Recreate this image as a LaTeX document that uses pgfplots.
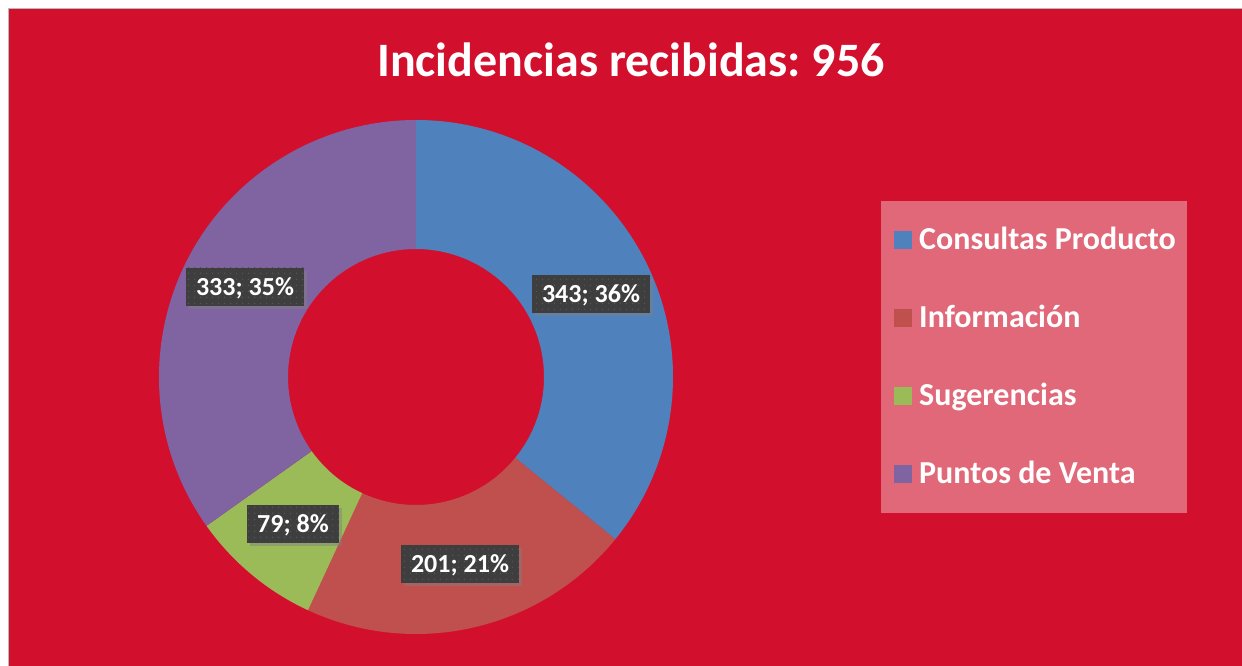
\documentclass[border=0pt]{standalone}
\usepackage{pgfplots}
\pgfplotsset{compat=1.18}
\usepackage{pgfplotstable}
\usepackage{fontspec}
\setmainfont{Carlito}
\usetikzlibrary{calc,shadows,patterns.meta}
\definecolor{bg}{RGB}{210,16,46}
\definecolor{leg}{RGB}{224,104,120}
\definecolor{s0}{RGB}{79,129,189}
\definecolor{s1}{RGB}{192,80,77}
\definecolor{s2}{RGB}{155,187,89}
\definecolor{s3}{RGB}{128,100,162}
\definecolor{lab}{RGB}{62,62,62}
\definecolor{labdot}{RGB}{84,84,84}
\tikzdeclarepattern{name=mydots, type=uncolored,
  bounding box={(0pt,0pt) and (6pt,6pt)}, tile size={(6pt,6pt)},
  code={\fill (3pt,3pt) circle (0.9pt);}}

% value, label centre x, label baseline y (axis units = px from bottom)
\pgfplotstableread{
v   lx  ly
343 591 363
201 460 93
79  293 133
333 245 370
}\data

\begin{document}
\frenchspacing
\begin{tikzpicture}
\path[use as bounding box] (0,0) rectangle (1242pt,666pt);
\def\acc{0}
\pgfplotsforeachungrouped \i in {0,...,3}{%
  \pgfplotstablegetelem{\i}{v}\of\data
  \pgfmathsetmacro\acc{\acc+\pgfplotsretval}%
}
\xdef\total{\acc}
\def\cur{90}
\pgfplotsforeachungrouped \i in {0,...,3}{%
  \pgfplotstablegetelem{\i}{v}\of\data
  \edef\val{\pgfplotsretval}%
  \pgfmathsetmacro\frac{\val/\total}%
  \pgfmathsetmacro\nxt{\cur-360*\frac}%
  \pgfmathtruncatemacro\pct{round(100*\frac)}%
  \expandafter\xdef\csname sa\i\endcsname{\cur}%
  \expandafter\xdef\csname ea\i\endcsname{\nxt}%
  \pgfmathtruncatemacro\vint{\val}%
  \expandafter\xdef\csname vv\i\endcsname{\vint}%
  \expandafter\xdef\csname pp\i\endcsname{\pct}%
  \pgfplotstablegetelem{\i}{lx}\of\data
  \expandafter\xdef\csname lx\i\endcsname{\pgfplotsretval}%
  \pgfplotstablegetelem{\i}{ly}\of\data
  \expandafter\xdef\csname ly\i\endcsname{\pgfplotsretval}%
  \global\let\cur\nxt
}
\begin{axis}[
  at={(0pt,0pt)}, anchor=south west,
  scale only axis, width=1242pt, height=666pt,
  xmin=0, xmax=1242, ymin=0, ymax=666,
  hide axis, clip=false]
\fill[white] (axis cs:0,0) rectangle (axis cs:1242,666);
\fill[bg] (axis cs:9,0) rectangle (axis cs:1242,657);
\draw[gray!55, line width=1pt] (axis cs:8.5,0) -- (axis cs:8.5,657.5) -- (axis cs:1242,657.5);
\node[white, font=\bfseries\fontsize{48}{58}\selectfont, anchor=base, inner sep=0pt]
  at (axis cs:631,589) {Incidencias recibidas: 956};
\pgfplotsinvokeforeach{0,...,3}{%
  \fill[s#1] ($(axis cs:416,289)+(\csname sa#1\endcsname:257pt)$)
    arc[start angle=\csname sa#1\endcsname, end angle=\csname ea#1\endcsname, radius=257pt]
    -- ($(axis cs:416,289)+(\csname ea#1\endcsname:128pt)$)
    arc[start angle=\csname ea#1\endcsname, end angle=\csname sa#1\endcsname, radius=128pt]
    -- cycle;
}
\pgfplotsinvokeforeach{0,...,3}{%
  \node[fill=lab, text=white, font=\bfseries\fontsize{26}{31}\selectfont,
    anchor=base, text height=18pt, text depth=0pt, inner xsep=10pt, inner ysep=10pt,
    drop shadow={shadow xshift=3pt, shadow yshift=-3pt, opacity=0.45},
    postaction={pattern={mydots}, pattern color=labdot}]
    at (axis cs:\csname lx#1\endcsname,\csname ly#1\endcsname)
    {\csname vv#1\endcsname; \csname pp#1\endcsname\%};
}
% legend
\fill[leg] (axis cs:881,153) rectangle (axis cs:1187,465);
\fill[s0] (axis cs:894,417) rectangle (axis cs:912,435);
\fill[s1] (axis cs:894,339) rectangle (axis cs:912,357);
\fill[s2] (axis cs:894,261) rectangle (axis cs:912,279);
\fill[s3] (axis cs:894,183) rectangle (axis cs:912,201);
\begin{scope}[every node/.style={white, font=\bfseries\fontsize{32}{38}\selectfont, anchor=base west, inner sep=0pt}]
\node at (axis cs:919,416) {Consultas Producto};
\node at (axis cs:919,338) {Información};
\node at (axis cs:919,260) {Sugerencias};
\node at (axis cs:919,182) {Puntos de Venta};
\end{scope}
\end{axis}
\end{tikzpicture}
\end{document}
